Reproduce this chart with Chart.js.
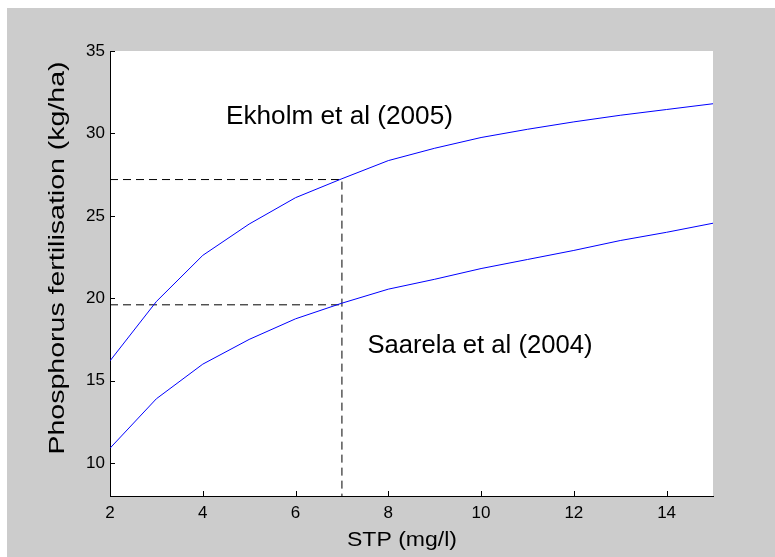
<!DOCTYPE html>
<html>
<head>
<meta charset="utf-8">
<script src="https://cdn.jsdelivr.net/npm/chart.js@4"></script>
<style>
  html, body { margin: 0; padding: 0; background: #fff; }
  canvas { display: block; }
</style>
</head>
<body>
<canvas id="stp-chart" width="775" height="557"></canvas>
<script>
// STP values (mg/l) and the two fertilisation curves (kg/ha)
const stp = [2, 3, 4, 5, 6, 7, 8, 9, 10, 11, 12, 13, 14, 15];
const ekholm = [16.2, 19.8, 22.6, 24.5, 26.1, 27.25, 28.35, 29.1, 29.75, 30.25, 30.7, 31.1, 31.45, 31.8];
const saarela = [10.9, 13.9, 16.0, 17.5, 18.75, 19.7, 20.55, 21.15, 21.8, 22.35, 22.9, 23.5, 24.0, 24.55];

const guideStp = 7;
const guideEkholm = 27.2;
const guideSaarela = 19.6;

const xTicks = [2, 4, 6, 8, 10, 12, 14];
const yTicks = [10, 15, 20, 25, 30, 35];
const xRange = [2, 15];
const yRange = [8, 35];

const xTitle = 'STP (mg/l)';
const yTitle = 'Phosphorus fertilisation (kg/ha)';

const FONT = '"Liberation Sans", Arial, Helvetica, sans-serif';

const toPoints = (xs, ys) => xs.map((x, i) => ({ x, y: ys[i] }));

// text squeezed/stretched along its own direction to a given width
function stretchText(ctx, text, size, width, x, y, opts = {}) {
  ctx.save();
  ctx.font = size + 'px ' + FONT;
  ctx.fillStyle = '#000';
  ctx.textBaseline = opts.baseline || 'alphabetic';
  ctx.textAlign = opts.align || 'left';
  const natural = ctx.measureText(text).width;
  ctx.translate(x, y);
  if (opts.rotate) ctx.rotate(opts.rotate);
  ctx.scale(width / natural, 1);
  ctx.fillText(text, 0, 0);
  ctx.restore();
}

// grey figure background, white axes box
const framePlugin = {
  id: 'frame',
  beforeDraw(chart) {
    const { ctx, chartArea: a } = chart;
    ctx.save();
    ctx.fillStyle = '#ffffff';
    ctx.fillRect(0, 0, chart.width, chart.height);
    ctx.fillStyle = '#cccccc';
    ctx.fillRect(7, 8, chart.width - 7, chart.height - 8);
    ctx.fillStyle = '#ffffff';
    ctx.fillRect(a.left, a.top, a.right - a.left, a.bottom - a.top);
    ctx.restore();
  },
};

// matlab style ticks pointing into the plot, axis titles and curve labels
const markPlugin = {
  id: 'marks',
  afterDraw(chart, args, opts) {
    const { ctx, chartArea: a, scales: { x, y } } = chart;
    const len = 5;
    ctx.save();
    ctx.strokeStyle = '#000';
    ctx.lineWidth = 1;
    ctx.beginPath();
    x.ticks.forEach((t) => {
      const px = Math.round(x.getPixelForValue(t.value)) + 0.5;
      ctx.moveTo(px, a.bottom);
      ctx.lineTo(px, a.bottom - len);
    });
    y.ticks.forEach((t) => {
      const py = Math.round(y.getPixelForValue(t.value)) + 0.5;
      ctx.moveTo(a.left, py);
      ctx.lineTo(a.left + len, py);
    });
    ctx.stroke();
    ctx.restore();

    stretchText(ctx, xTitle, 21, 110, 402, 540, { align: 'center', baseline: 'middle' });
    stretchText(ctx, yTitle, 22, 393, 58, 258, { align: 'center', baseline: 'middle', rotate: -Math.PI / 2 });

    (opts.labels || []).forEach((l) => {
      stretchText(ctx, l.text, 25, l.width, x.getPixelForValue(l.x), y.getPixelForValue(l.y));
    });
  },
};

const lineStyle = { borderColor: '#0000ff', borderWidth: 1, pointRadius: 0, fill: false, tension: 0 };
const dashStyle = { borderColor: '#000000', borderWidth: 1, borderDash: [8, 5], pointRadius: 0, fill: false, tension: 0 };

new Chart(document.getElementById('stp-chart'), {
  type: 'line',
  data: {
    datasets: [
      { label: 'Ekholm et al (2005)', data: toPoints(stp, ekholm), ...lineStyle },
      { label: 'Saarela et al (2004)', data: toPoints(stp, saarela), ...lineStyle },
      {
        label: 'guide upper',
        data: [
          { x: xRange[0], y: guideEkholm },
          { x: guideStp, y: guideEkholm },
          { x: guideStp, y: yRange[0] },
        ],
        ...dashStyle,
      },
      {
        label: 'guide lower',
        data: [
          { x: xRange[0], y: guideSaarela },
          { x: guideStp, y: guideSaarela },
        ],
        ...dashStyle,
      },
    ],
  },
  options: {
    responsive: false,
    animation: false,
    devicePixelRatio: 1,
    layout: { padding: { top: 51, right: 62, left: 0, bottom: 0 } },
    plugins: {
      legend: { display: false },
      tooltip: { enabled: false },
      marks: {
        labels: [
          { text: 'Ekholm et al (2005)', x: 4.5, y: 30.55, width: 227 },
          { text: 'Saarela et al (2004)', x: 7.55, y: 16.7, width: 225 },
        ],
      },
    },
    scales: {
      x: {
        type: 'linear',
        min: xRange[0],
        max: xRange[1],
        afterBuildTicks: (s) => { s.ticks = xTicks.map((v) => ({ value: v })); },
        afterFit: (s) => { s.height = 61; },
        grid: { display: true, drawOnChartArea: false, drawTicks: false },
        border: { display: true, color: '#000', width: 1 },
        ticks: { color: '#000', padding: 7, maxRotation: 0, font: { family: FONT, size: 17 } },
        title: { display: false },
      },
      y: {
        type: 'linear',
        min: yRange[0],
        max: yRange[1],
        afterBuildTicks: (s) => { s.ticks = yTicks.map((v) => ({ value: v })); },
        afterFit: (s) => { s.width = 110; },
        grid: { display: true, drawOnChartArea: false, drawTicks: false },
        border: { display: true, color: '#000', width: 1 },
        ticks: { color: '#000', padding: 5, font: { family: FONT, size: 17 } },
        title: { display: false },
      },
    },
  },
  plugins: [framePlugin, markPlugin],
});
</script>
</body>
</html>
